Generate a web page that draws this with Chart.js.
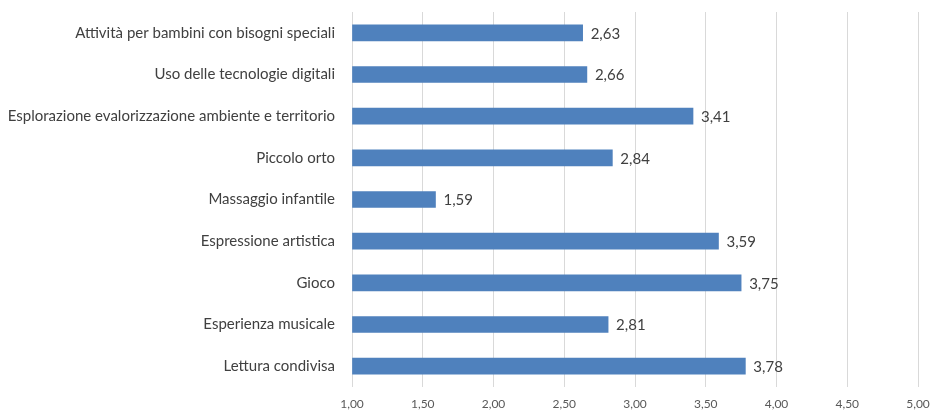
<!DOCTYPE html>
<html>
<head>
<meta charset="utf-8">
<script src="https://cdn.jsdelivr.net/npm/chart.js@4.4.1/dist/chart.umd.min.js"></script>
<style>
  html, body { margin: 0; padding: 0; background: #fff; }
  #wrap { width: 932px; height: 412px; }
</style>
</head>
<body>
<div id="wrap"><canvas id="myChart" width="932" height="412"></canvas></div>
<script>
const categories = [
    "Attività per bambini con bisogni speciali",
    "Uso delle tecnologie digitali",
    "Esplorazione evalorizzazione ambiente e territorio",
    "Piccolo orto",
    "Massaggio infantile",
    "Espressione artistica",
    "Gioco",
    "Esperienza musicale",
    "Lettura condivisa"
]

const scores = [2.63, 2.66, 3.41, 2.84, 1.59, 3.59, 3.75, 2.81, 3.78]

const axisMin = 1
const axisMax = 5
const axisStep = 0.5

const fontFamily = "Lato, 'Open Sans', sans-serif"

function formatIt(v) {
    return v.toFixed(2).replace('.', ',')
}

// draws the value next to the end of each bar
const valueLabels = {
    id: 'valueLabels',
    afterDatasetsDraw(chart) {
        const ctx = chart.ctx
        const meta = chart.getDatasetMeta(0)
        ctx.save()
        ctx.font = `15px ${fontFamily}`
        ctx.fillStyle = '#404040'
        ctx.textAlign = 'left'
        ctx.textBaseline = 'middle'
        meta.data.forEach((bar, i) => {
            ctx.fillText(formatIt(scores[i]), bar.x + 8, bar.y + 1)
        })
        ctx.restore()
    }
}

const ctx = document.getElementById('myChart')
new Chart(ctx, {
    type: 'bar',
    data: {
        labels: categories,
        datasets: [{
            data: scores,
            base: axisMin,
            backgroundColor: '#4F81BD',
            borderColor: '#4F81BD',
            borderWidth: 0,
            barThickness: 16
        }]
    },
    options: {
        indexAxis: 'y',
        responsive: false,
        animation: false,
        layout: {
            padding: { top: 12, right: 14, bottom: 0, left: 0 }
        },
        scales: {
            x: {
                min: axisMin,
                max: axisMax,
                ticks: {
                    stepSize: axisStep,
                    color: '#595959',
                    font: { family: fontFamily, size: 12 },
                    padding: 10,
                    callback: v => formatIt(v)
                },
                grid: {
                    color: '#D9D9D9',
                    lineWidth: 1,
                    drawTicks: false
                },
                border: { display: false },
                afterFit: scale => {
                    scale.height = 25
                    scale.paddingLeft = 0
                    scale.paddingRight = 0
                }
            },
            y: {
                ticks: {
                    color: '#404040',
                    font: { family: fontFamily, size: 15 },
                    padding: 17
                },
                grid: { display: false, drawTicks: false },
                border: { display: false },
                afterFit: scale => {
                    scale.width = 352
                    scale.paddingTop = 0
                    scale.paddingBottom = 0
                }
            }
        },
        plugins: {
            legend: { display: false },
            tooltip: { enabled: false }
        }
    },
    plugins: [valueLabels]
})
</script>
</body>
</html>
